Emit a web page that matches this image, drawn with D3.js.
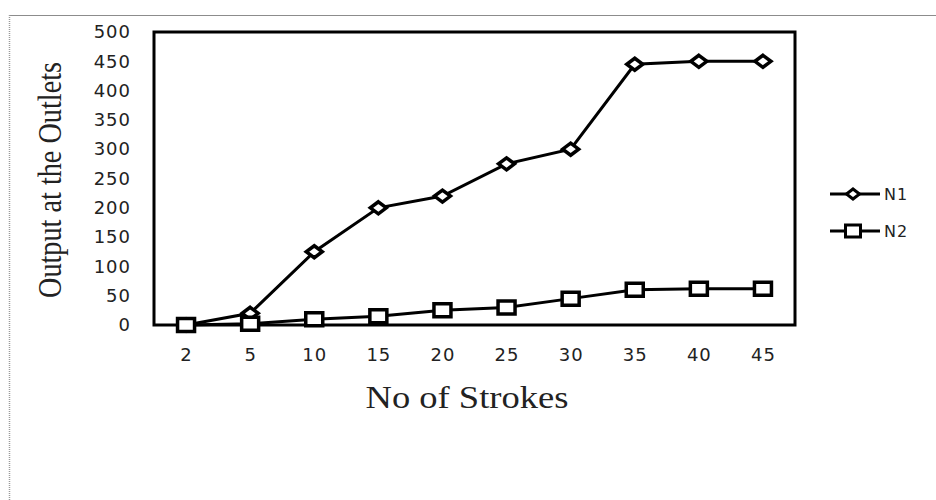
<!DOCTYPE html>
<html>
<head>
<meta charset="utf-8">
<script src="https://cdn.jsdelivr.net/npm/d3@7"></script>
<style>
  body { margin: 0; background: #fff; }
  svg { display: block; }
</style>
</head>
<body>
<div id="chart"></div>
<script>
const strokes = ['2', '5', '10', '15', '20', '25', '30', '35', '40', '45'];
const n1 = [0, 20, 125, 200, 220, 275, 300, 445, 450, 450];
const n2 = [0, 2, 10, 15, 25, 30, 45, 60, 62, 62];
const yTicks = [0, 50, 100, 150, 200, 250, 300, 350, 400, 450, 500];
const seriesNames = ['N1', 'N2'];

const outerWidth = 936;
const outerHeight = 500;
const plot = {left: 154, top: 32, right: 795, bottom: 325};

const svg = d3.select('#chart').append('svg')
  .attr('width', outerWidth)
  .attr('height', outerHeight);

// page border (top solid, left dotted)
svg.append('line')
  .attr('x1', 9).attr('x2', outerWidth).attr('y1', 15.5).attr('y2', 15.5)
  .attr('stroke', '#8c8c8c').attr('stroke-width', 1);
svg.append('line')
  .attr('x1', 9.5).attr('x2', 9.5).attr('y1', 15).attr('y2', outerHeight)
  .attr('stroke', '#9a9a9a').attr('stroke-width', 1.5)
  .attr('stroke-dasharray', '1,1');

const xScale = d3.scalePoint()
  .domain(strokes)
  .range([plot.left, plot.right])
  .padding(0.5);

const yScale = d3.scaleLinear()
  .domain([0, 500])
  .range([plot.bottom, plot.top]);

// frame
svg.append('rect')
  .attr('x', plot.left).attr('y', plot.top)
  .attr('width', plot.right - plot.left)
  .attr('height', plot.bottom - plot.top)
  .attr('fill', 'none')
  .attr('stroke', '#000')
  .attr('stroke-width', 3);

const tickFont = g => g
  .attr('font-family', '"DejaVu Sans", sans-serif')
  .attr('font-size', 18)
  .attr('letter-spacing', 1)
  .attr('fill', '#222');

// y axis labels
const yAxis = d3.axisLeft(yScale).tickValues(yTicks).tickSize(0).tickPadding(23);
svg.append('g')
  .attr('transform', `translate(${plot.left},0)`)
  .call(yAxis)
  .call(g => g.select('.domain').remove())
  .selectAll('text')
    .call(tickFont);

// x axis labels
const xAxis = d3.axisBottom(xScale).tickSize(0).tickPadding(23);
svg.append('g')
  .attr('transform', `translate(0,${plot.bottom})`)
  .call(xAxis)
  .call(g => g.select('.domain').remove())
  .selectAll('text')
    .call(tickFont);

// axis titles
svg.append('text')
  .attr('transform', 'translate(61,180) rotate(-90)')
  .attr('text-anchor', 'middle')
  .attr('font-family', '"Liberation Serif", serif')
  .attr('font-size', 33)
  .attr('textLength', 236)
  .attr('lengthAdjust', 'spacingAndGlyphs')
  .attr('fill', '#222')
  .text('Output at the Outlets');

svg.append('text')
  .attr('x', 467)
  .attr('y', 408)
  .attr('text-anchor', 'middle')
  .attr('font-family', '"Liberation Serif", serif')
  .attr('font-size', 31)
  .attr('textLength', 203)
  .attr('lengthAdjust', 'spacingAndGlyphs')
  .attr('fill', '#222')
  .text('No of Strokes');

// markers
const diamond = (w, h) => `M0,${-h / 2}L${w / 2},0L0,${h / 2}L${-w / 2},0Z`;
const square = (w, h) => `M${-w / 2},${-h / 2}h${w}v${h}h${-w}Z`;
const markerPaths = [diamond(16, 12), square(17, 13)];

const line = d3.line()
  .x((d, i) => xScale(strokes[i]))
  .y(d => yScale(d));

[n1, n2].forEach((values, s) => {
  svg.append('path')
    .datum(values)
    .attr('d', line)
    .attr('fill', 'none')
    .attr('stroke', '#000')
    .attr('stroke-width', 3);

  svg.selectAll(`.marker-${s}`)
    .data(values)
    .enter().append('path')
      .attr('class', `marker-${s}`)
      .attr('transform', (d, i) => `translate(${xScale(strokes[i])},${yScale(d)})`)
      .attr('d', markerPaths[s])
      .attr('fill', '#fff')
      .attr('stroke', '#000')
      .attr('stroke-width', 3.5);
});

// legend
const legend = svg.append('g');
seriesNames.forEach((name, s) => {
  const y = 194 + s * 37;
  legend.append('line')
    .attr('x1', 830).attr('x2', 880).attr('y1', y).attr('y2', y)
    .attr('stroke', '#000').attr('stroke-width', 3);
  legend.append('path')
    .attr('transform', `translate(853,${y})`)
    .attr('d', s === 0 ? diamond(13, 10) : square(15, 12))
    .attr('fill', '#fff')
    .attr('stroke', '#000')
    .attr('stroke-width', 3);
  legend.append('text')
    .attr('x', 884)
    .attr('y', y)
    .attr('dy', '0.35em')
    .attr('font-family', '"DejaVu Sans", sans-serif')
    .attr('font-size', 16)
    .attr('letter-spacing', 1)
    .attr('fill', '#222')
    .text(name);
});
</script>
</body>
</html>
